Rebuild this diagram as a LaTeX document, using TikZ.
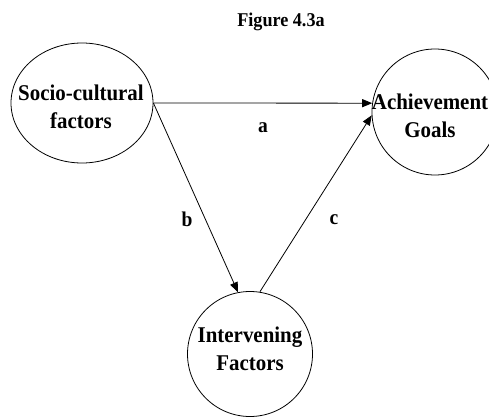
\documentclass[tikz,border=0pt]{standalone}
\usepackage{fontspec}
\setmainfont{Liberation Serif}[FakeStretch=0.93]
\usetikzlibrary{arrows.meta,shapes.geometric}
\begin{document}
\begin{tikzpicture}[x=1pt,y=-1pt,
  bubble/.style={draw,line width=0.8pt,inner sep=0pt},
  btext/.style={inner sep=0pt,align=center,
    font=\fontsize{22.5}{27.5}\selectfont\bfseries},
  lbl/.style={font=\fontsize{21}{25}\selectfont\bfseries,inner sep=0pt},
  conn/.style={line width=0.8pt,-{Triangle[length=10pt,width=8pt]}}]
\useasboundingbox (0,0) rectangle (489,417);
\clip (0,0) rectangle (489,417);
\node[font=\fontsize{19.5}{23}\selectfont\bfseries] (title) at (281,22) {Figure 4.3a};
\node[bubble,ellipse,minimum width=142pt,minimum height=120pt] (L) at (82,103) {};
\node[bubble,circle,minimum size=126pt] (R) at (435,112) {};
\node[bubble,circle,minimum size=125pt] (I) at (250,354) {};
\node[btext] (Lt) at (81,107) {Socio-cultural\\factors};
\node[btext] (Rt) at (430,116) {Achievement\\Goals};
\node[btext] (It) at (250,349) {Intervening\\Factors};
\draw[conn] (L.east) -- (R.172.6);
\draw[conn] (L.east) -- (I.101.7);
\draw[conn] (I.81.8) -- (R.183.7);
\node[lbl] (la) at (263,128) {a};
\node[lbl] (lb) at (187,219) {b};
\node[lbl] (lc) at (334,220) {c};
\end{tikzpicture}
\end{document}
